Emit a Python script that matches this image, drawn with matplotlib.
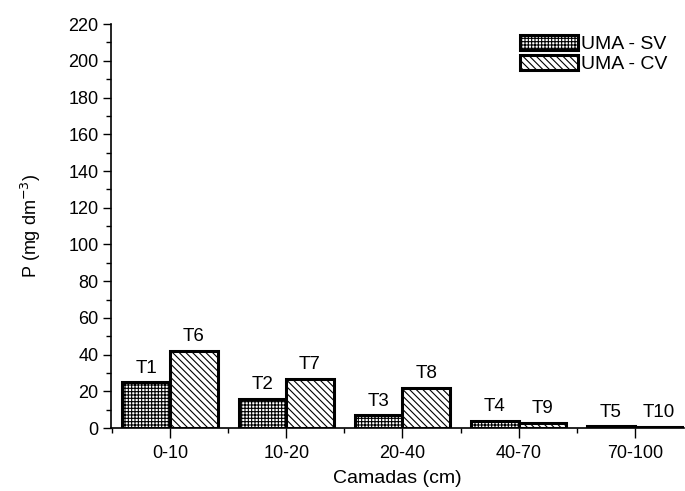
import numpy as np
import matplotlib
matplotlib.use('Agg')
import matplotlib.pyplot as plt
from matplotlib.ticker import MultipleLocator

plt.rcParams['font.family'] = ['Liberation Sans', 'DejaVu Sans']
plt.rcParams['hatch.linewidth'] = 0.8

# data
camadas = ['0-10', '10-20', '20-40', '40-70', '70-100']
uma_sv = [25, 16, 7, 4, 1]
uma_cv = [42, 27, 22, 3, 0.7]
labels_sv = ['T1', 'T2', 'T3', 'T4', 'T5']
labels_cv = ['T6', 'T7', 'T8', 'T9', 'T10']

fig = plt.figure(figsize=(6.85, 4.91), dpi=100)
ax = fig.add_axes([0.162, 0.128, 0.836, 0.823])

x = np.arange(len(camadas))
w = 0.41
b1 = ax.bar(x - w / 2, uma_sv, w, facecolor='white', edgecolor='black',
            linewidth=2.2, hatch='+++++', label='UMA - SV')
b2 = ax.bar(x + w / 2, uma_cv, w, facecolor='white', edgecolor='black',
            linewidth=2.2, hatch='\\\\\\\\\\', label='UMA - CV')

# bar labels
for bars, labs in ((b1, labels_sv), (b2, labels_cv)):
    for rect, lab in zip(bars, labs):
        ax.annotate(lab, (rect.get_x() + rect.get_width() / 2, rect.get_height()),
                    xytext=(0, 4), textcoords='offset points',
                    ha='center', va='bottom', fontsize=13.5)

ax.set_xlim(-0.508, 4.42)
ax.set_ylim(0, 220)
ax.yaxis.set_major_locator(MultipleLocator(20))
ax.yaxis.set_minor_locator(MultipleLocator(10))
ax.set_xticks(x)
ax.set_xticklabels(camadas)
ax.set_xticks(np.arange(-0.5, 4.5, 1.0), minor=True)
ax.tick_params(axis='both', which='major', direction='out', length=6, width=1,
               labelsize=13)
ax.tick_params(axis='both', which='minor', direction='out', length=3.5, width=1)
ax.tick_params(axis='x', which='major', length=7, pad=5)
ax.tick_params(axis='y', which='major', pad=3)

for s in ('top', 'right'):
    ax.spines[s].set_visible(False)
for s in ('left', 'bottom'):
    ax.spines[s].set_linewidth(1.2)

ax.set_xlabel('Camadas (cm)', fontsize=14, labelpad=6)
ax.set_ylabel('P (mg dm$^{-3}$)', fontsize=13, labelpad=18)

ax.legend(loc='upper right', frameon=False, fontsize=14, handlelength=3.0,
          handleheight=0.8, handletextpad=0.15, labelspacing=0.1,
          bbox_to_anchor=(0.99, 1.0), borderaxespad=0.15)

fig.savefig('out.png', dpi=100)
